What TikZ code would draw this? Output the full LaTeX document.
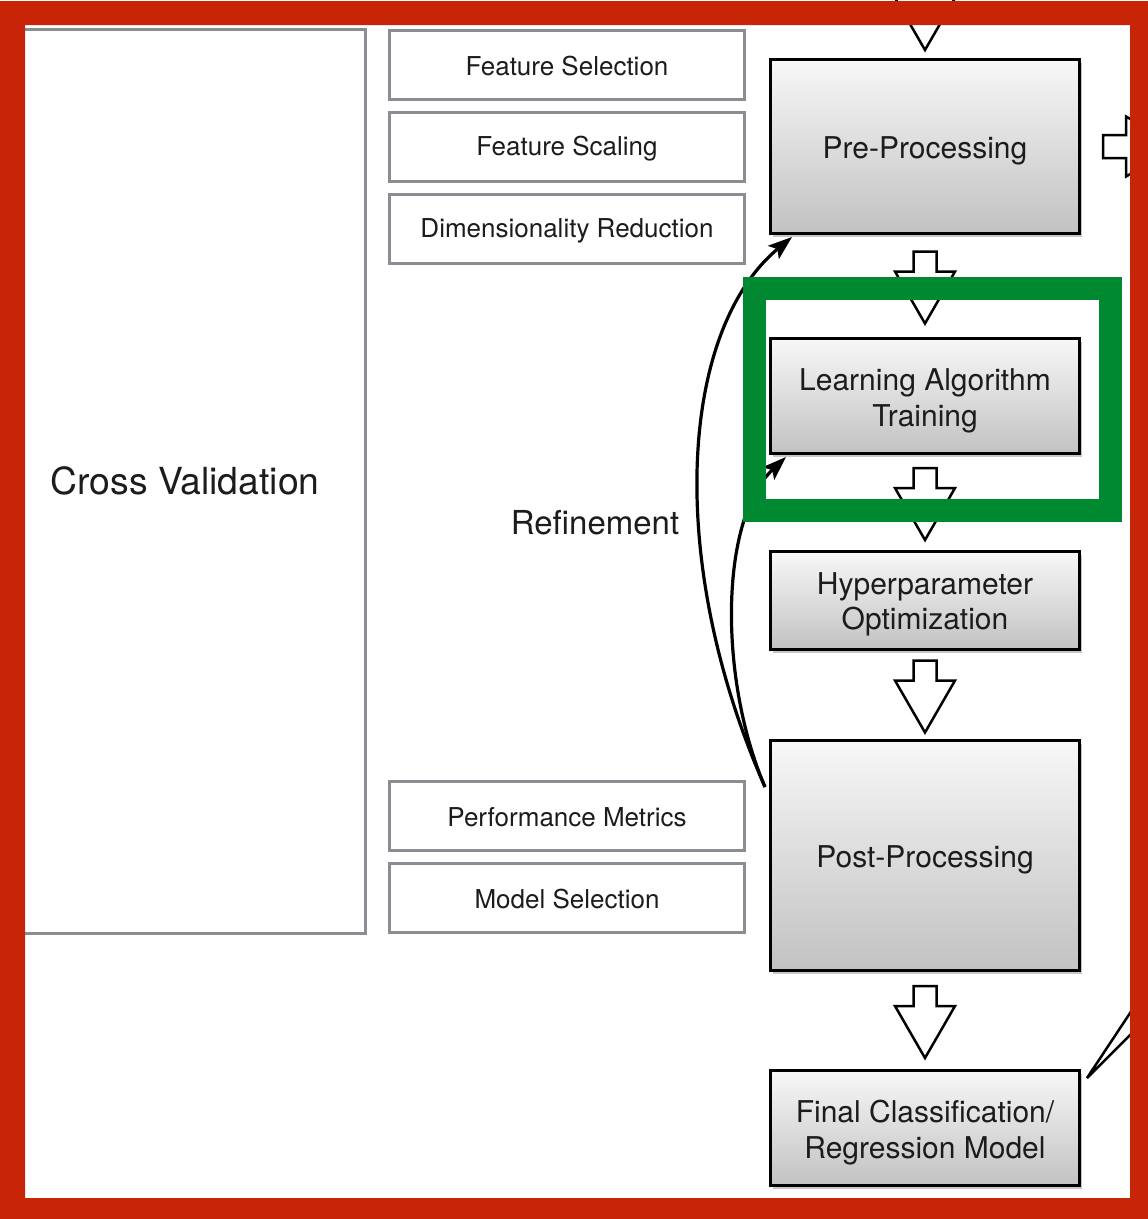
\documentclass[tikz,border=0pt]{standalone}
\usepackage{fontspec}
\setmainfont{TeX Gyre Heros}
\usetikzlibrary{calc,shadows,arrows.meta}
\definecolor{framered}{RGB}{200,37,8}
\definecolor{hlgreen}{RGB}{0,137,48}
\definecolor{boxgray}{RGB}{138,141,145}
\definecolor{ink}{RGB}{28,28,28}
\begin{document}
\begin{tikzpicture}[x=1pt,y=-1pt,
  stage/.style={draw=black, line width=3pt, top color=black!3, bottom color=black!24,
    minimum width=309pt, align=center, text=ink, inner sep=0pt,
    font=\fontsize{30}{35.5}\selectfont,
    execute at begin node={\rule{0pt}{#1}},
    drop shadow={shadow xshift=2pt, shadow yshift=-3pt, fill=black, opacity=0.22}},
  stage/.default=30pt,
  task/.style={draw=boxgray, line width=3pt, fill=white, minimum width=355pt,
    minimum height=69pt, inner sep=0pt, text=ink, font=\fontsize{26}{31}\selectfont,
    execute at begin node={\rule{0pt}{23pt}}},
  blockarrow/.style={draw=black, fill=white, line width=2.5pt, line join=miter},
  loop/.style={draw=black, line width=3.2pt, -{Stealth[length=24pt,width=17pt,inset=5pt]}},
]
\useasboundingbox (0,0) rectangle (1148,1219);
\clip (0,0) rectangle (1148,1219);

% left column
\node[draw=boxgray, line width=3pt, minimum width=360pt, minimum height=904pt,
  inner sep=0pt, text=ink, font=\fontsize{37.3}{44}\selectfont] (cv) at (185,481) {Cross Validation};

% task boxes
\node[task] (fsel)  at (567,64.5)  {Feature Selection};
\node[task] (fscal) at (567,146.5) {Feature Scaling};
\node[task] (dimred) at (567,229)  {Dimensionality Reduction};
\node[task] (perf)  at (567,815.5) {Performance Metrics};
\node[task] (msel)  at (567,897.5) {Model Selection};

\node[text=ink, font=\fontsize{33}{40}\selectfont] (refine) at (595,523) {Refinement};

% pipeline stages
\node[stage, minimum height=174pt] (pre)   at (925,146.5) {Pre-Processing};
\node[stage=67pt, minimum height=115pt] (learn) at (925,396)   {Learning Algorithm\\Training};
\node[stage=65pt, minimum height=98pt]  (hyper) at (925,600.5) {Hyperparameter\\Optimization};
\node[stage, minimum height=230pt] (post)  at (925,855.5) {Post-Processing};
\node[stage=67pt, minimum height=115pt] (final) at (925,1128)  {Final Classification/\\Regression Model};

% hollow block arrows between consecutive stages
\newcommand\stagearrow[2]{%
  \coordinate (m) at ($(#1.south)!0.5!(#2.north)$);
  \draw[blockarrow, shift={(m)}] (-11.5,-34.5) -- (11.5,-34.5) -- (11.5,-14.5) -- (30,-14.5)
    -- (0,37.5) -- (-30,-14.5) -- (-11.5,-14.5) -- cycle;}
\stagearrow{pre}{learn}
\stagearrow{learn}{hyper}
\stagearrow{hyper}{post}
\stagearrow{post}{final}

% incoming arrow at the top
\coordinate (in) at ($(pre.north)+(0,-8)$);
\draw[blockarrow, shift={(in)}] (-11.5,-90) -- (11.5,-90) -- (11.5,-52) -- (30,-52)
  -- (0,0) -- (-30,-52) -- (-11.5,-52) -- cycle;

% outgoing arrow to the right
\coordinate (out) at ($(pre.east)+(22,0)$);
\draw[blockarrow, shift={(out)}] (0,-11.5) -- (23,-11.5) -- (23,-30) -- (75,0)
  -- (23,30) -- (23,11.5) -- (0,11.5) -- cycle;

% refinement loops
\coordinate (loopstart) at ($(post.north west)+(-4,48)$);
\coordinate (pretip) at ($(pre.south west)+(23,2)$);
\coordinate (learntip) at ($(learn.south west)+(17,2)$);
\draw[loop] (loopstart) .. controls (665,560) and (680,330) .. (pretip);
\draw[loop] (loopstart) .. controls (719,680) and (719,520) .. (learntip);

% lines leaving the final model
\coordinate (fout) at ($(final.north east)+(6,9)$);
\coordinate (fa) at (1140,998);
\coordinate (fb) at (1140,1025);
\draw[line width=2.5pt, line join=miter] (fa) -- (fout) -- (fb);

% highlight around the training stage
\draw[hlgreen, line width=23pt] (754.5,288.5) rectangle (1110.5,510.5);

% outer frame
\fill[framered, even odd rule] (0,1) rectangle (1148,1219) (25,25) rectangle (1130,1198);
\end{tikzpicture}
\end{document}
